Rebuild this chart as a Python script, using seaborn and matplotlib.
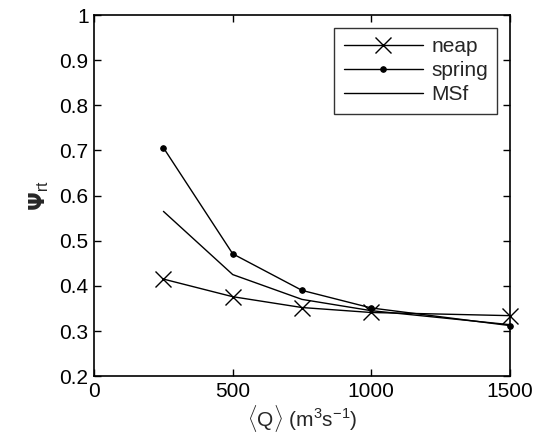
import seaborn as sns
import matplotlib.pyplot as plt
import pandas as pd

discharge = [250, 500, 750, 1000, 1500]
neap = [0.415, 0.376, 0.352, 0.341, 0.334]
spring = [0.706, 0.471, 0.390, 0.351, 0.312]
msf = [0.565, 0.425, 0.370, 0.345, 0.314]

sns.set_style('ticks')
plt.rcParams['font.family'] = ['Liberation Sans', 'DejaVu Sans']
plt.rcParams['mathtext.fontset'] = 'custom'
plt.rcParams['mathtext.rm'] = 'Liberation Sans'
plt.rcParams['mathtext.it'] = 'Liberation Sans'

fig = plt.figure(figsize=(5.35, 4.42), dpi=100)
ax = fig.add_axes([0.176, 0.149, 0.777, 0.817])

df = pd.DataFrame({'Q': discharge, 'neap': neap, 'spring': spring, 'MSf': msf})

sns.lineplot(data=df, x='Q', y='neap', ax=ax, color='black', lw=1,
             marker='x', markersize=11, markeredgewidth=1,
             markeredgecolor='black', clip_on=False, label='neap')
sns.lineplot(data=df, x='Q', y='spring', ax=ax, color='black', lw=1,
             marker='o', markersize=4, markeredgecolor='black',
             clip_on=False, label='spring')
sns.lineplot(data=df, x='Q', y='MSf', ax=ax, color='black', lw=1,
             label='MSf')

ax.set_xlim(0, 1500)
ax.set_ylim(0.2, 1)
ax.set_xticks([0, 500, 1000, 1500])
ax.set_yticks([0.2, 0.3, 0.4, 0.5, 0.6, 0.7, 0.8, 0.9, 1])
ax.set_yticklabels(['0.2', '0.3', '0.4', '0.5', '0.6', '0.7', '0.8', '0.9', '1'])
ax.tick_params(direction='in', top=True, right=True, labelsize=15,
               length=5, width=1, colors='black', pad=4)
for s in ax.spines.values():
    s.set_linewidth(1.2)
    s.set_color('black')

ax.set_xlabel(r'$\langle$Q$\rangle$ (m$^3$s$^{-1}$)', fontsize=15, labelpad=2)
ax.set_ylabel(r'$\mathbf{\Psi}_{\rm rt}$', fontsize=16, labelpad=6)

leg = ax.legend(loc='upper right', fontsize=15, frameon=True, fancybox=False,
                edgecolor='black', handlelength=3.8, handletextpad=0.4,
                borderaxespad=0.6, labelspacing=0.25, borderpad=0.45)
leg.get_frame().set_linewidth(1)

fig.savefig('out.png', dpi=100)
